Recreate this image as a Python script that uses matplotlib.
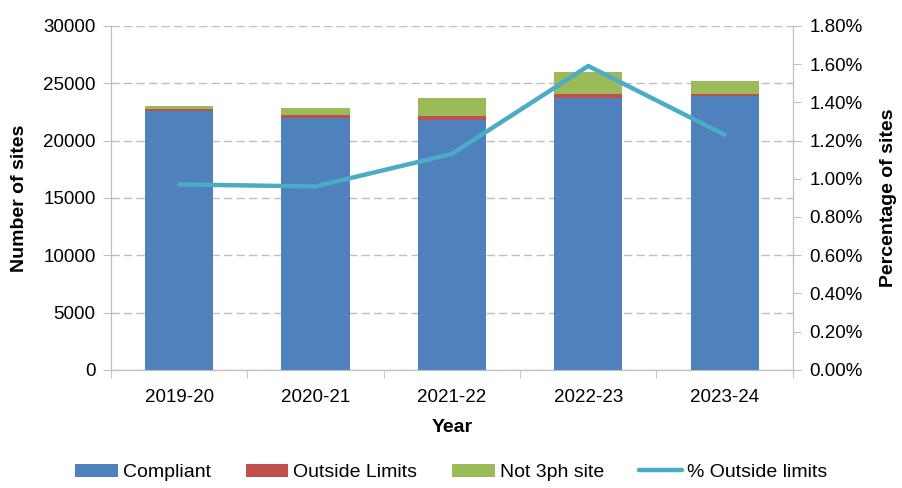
import matplotlib
matplotlib.use("Agg")
import matplotlib.pyplot as plt
from matplotlib.ticker import FuncFormatter, MultipleLocator, FixedLocator

plt.rcParams["font.family"] = ["Liberation Sans", "DejaVu Sans"]

years = ["2019-20", "2020-21", "2021-22", "2022-23", "2023-24"]
compliant = [22550, 21950, 21800, 23700, 23850]
outside_limits = [200, 300, 330, 350, 250]
not_3ph = [300, 630, 1550, 1900, 1100]
pct_outside = [0.97, 0.96, 1.13, 1.59, 1.23]

BLUE = "#4F81BD"
RED = "#C0504D"
GREEN = "#9BBB59"
TEAL = "#4BACC6"
GREY = "#BFBFBF"

fig = plt.figure(figsize=(9.02, 4.88), dpi=100)
ax = fig.add_axes([0.123, 0.242, 0.756, 0.705])
ax2 = ax.twinx()

x = list(range(len(years)))
ax.bar(x, compliant, width=0.5, color=BLUE, label="Compliant", zorder=3)
bottom2 = [c for c in compliant]
ax.bar(x, outside_limits, width=0.5, bottom=bottom2, color=RED, label="Outside Limits", zorder=3)
bottom3 = [c + o for c, o in zip(compliant, outside_limits)]
ax.bar(x, not_3ph, width=0.5, bottom=bottom3, color=GREEN, label="Not 3ph site", zorder=3)

ax2.plot(x, pct_outside, color=TEAL, linewidth=3.2, label="% Outside limits", solid_capstyle="round")

ax.set_xlim(-0.5, len(years) - 0.5)
ax.set_ylim(0, 30000)
ax.yaxis.set_major_locator(MultipleLocator(5000))
ax2.set_ylim(0, 1.8)
ax2.yaxis.set_major_locator(MultipleLocator(0.2))
ax2.yaxis.set_major_formatter(FuncFormatter(lambda v, p: f"{v:.2f}%"))

ax.grid(axis="y", color=GREY, linestyle=(0, (6, 3)), linewidth=1.0, zorder=0)
ax.set_axisbelow(True)

ax.set_xticks(x)
ax.set_xticklabels(years)
ax.xaxis.set_minor_locator(FixedLocator([i - 0.5 for i in range(len(years) + 1)]))
ax.tick_params(axis="x", which="major", length=0, pad=14, labelsize=13.5)
ax.tick_params(axis="x", which="minor", length=6, color=GREY, direction="out")
ax.tick_params(axis="y", length=6, color=GREY, labelsize=13.5, pad=5)
ax2.tick_params(axis="y", length=6, color=GREY, labelsize=13.5, pad=6)

for a in (ax, ax2):
    a.spines["top"].set_visible(False)
    for side in ("left", "right", "bottom"):
        a.spines[side].set_color(GREY)

ax.set_xlabel("Year", fontsize=14, fontweight="bold", labelpad=9)
ax.set_ylabel("Number of sites", fontsize=14, fontweight="bold", labelpad=11)
ax2.set_ylabel("Percentage of sites", fontsize=14, fontweight="bold", labelpad=12)

h1, l1 = ax.get_legend_handles_labels()
h2, l2 = ax2.get_legend_handles_labels()
fig.legend(h1 + h2, l1 + l2, loc="lower center", ncol=4, bbox_to_anchor=(0.5, -0.022),
           frameon=False, fontsize=14, handlelength=2.2, handletextpad=0.25, columnspacing=1.8)

fig.savefig("out.png", dpi=100)
